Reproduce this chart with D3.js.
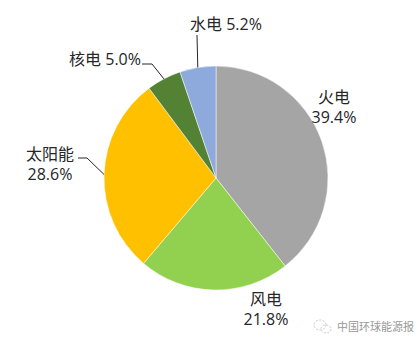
<!DOCTYPE html>
<html>
<head>
<meta charset="utf-8">
<script src="https://cdn.jsdelivr.net/npm/d3@7"></script>
<style>
  body { margin: 0; background: #fff; }
  text { font-family: "Open Sans", "Noto Sans CJK SC", sans-serif; fill: #262626; }
</style>
</head>
<body>
<svg width="420" height="346"></svg>
<script>
var names = ['火电', '风电', '太阳能', '核电', '水电'];
var shares = [39.4, 21.8, 28.6, 5.0, 5.2];
var colors = ['#A5A5A5', '#92D050', '#FFC000', '#548235', '#8EA9DB'];

var width = 420, height = 346;
var cx = 216, cy = 178, radius = 112;

// label layout per slice: anchor position, leader points (outside end)
var labelLayout = [
  { x: 334, y: 103, anchor: 'middle', twoLines: true },
  { x: 266, y: 305, anchor: 'middle', twoLines: true },
  { x: 50, y: 160, anchor: 'middle', twoLines: true, leader: [[78, 158], [87, 158]] },
  { x: 141, y: 65, anchor: 'end', twoLines: false, leader: [[142, 64], [152, 64]] },
  { x: 226, y: 30, anchor: 'middle', twoLines: false, leader: [[197, 35]] }
];

var svg = d3.select('svg');
var g = svg.append('g').attr('transform', 'translate(' + cx + ',' + cy + ')');

var pie = d3.pie().sort(null).value(function(d) { return d; });
var arcs = pie(shares);
var arc = d3.arc().innerRadius(0).outerRadius(radius);

g.selectAll('path')
  .data(arcs)
  .enter()
  .append('path')
  .attr('d', arc)
  .attr('fill', function(d, i) { return colors[i]; })
  .attr('stroke', '#fff')
  .attr('stroke-width', 0.5);

// labels
arcs.forEach(function(d, i) {
  var L = labelLayout[i];
  var pct = d.data.toFixed(1) + '%';
  if (L.twoLines) {
    svg.append('text').attr('x', L.x).attr('y', L.y)
      .attr('text-anchor', L.anchor).attr('font-size', '16px').text(names[i]);
    svg.append('text').attr('x', L.x).attr('y', L.y + 20)
      .attr('text-anchor', L.anchor).attr('font-size', '16px').text(pct);
  } else {
    svg.append('text').attr('x', L.x).attr('y', L.y)
      .attr('text-anchor', L.anchor).attr('font-size', '16px').text(names[i] + ' ' + pct);
  }
  if (L.leader) {
    var mid = (d.startAngle + d.endAngle) / 2;
    var end = [cx + radius * Math.sin(mid), cy - radius * Math.cos(mid)];
    var pts = L.leader.concat([end]);
    svg.append('path')
      .attr('d', d3.line()(pts))
      .attr('fill', 'none')
      .attr('stroke', '#262626')
      .attr('stroke-width', 1);
  }
});

// watermark
var wm = svg.append('g').attr('transform', 'translate(320,327)').attr('opacity', 0.5);
wm.append('ellipse').attr('cx', 0).attr('cy', -2).attr('rx', 6).attr('ry', 5)
  .attr('fill', 'none').attr('stroke', '#999').attr('stroke-dasharray', '2,1.5');
wm.append('ellipse').attr('cx', 6).attr('cy', 2).attr('rx', 5).attr('ry', 4)
  .attr('fill', 'none').attr('stroke', '#999').attr('stroke-dasharray', '2,1.5');
svg.append('text').attr('x', 337).attr('y', 331)
  .attr('font-size', '11px')
  .style('fill', '#999')
  .text('中国环球能源报');
</script>
</body>
</html>
